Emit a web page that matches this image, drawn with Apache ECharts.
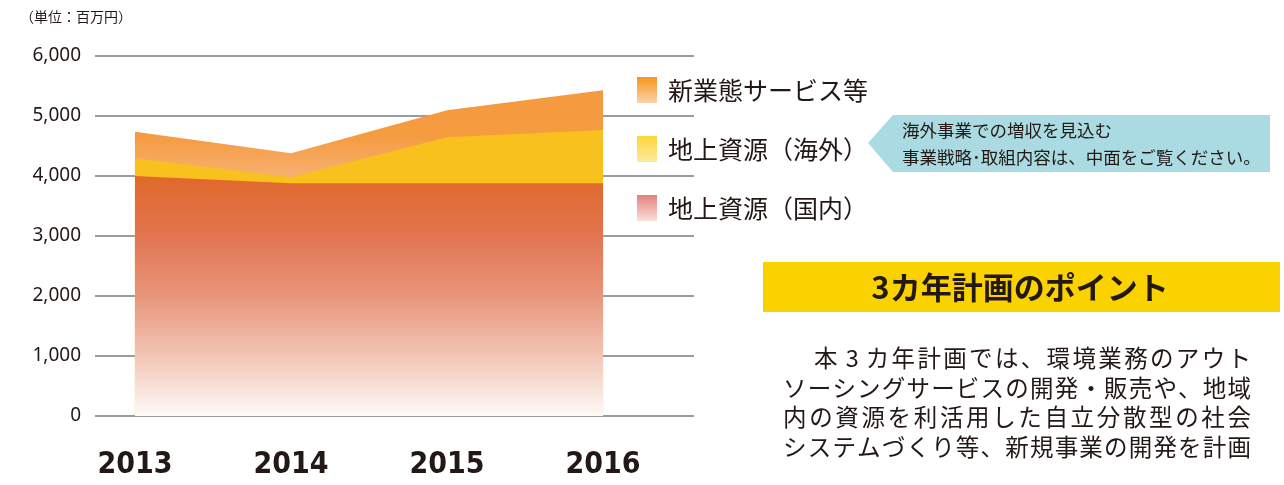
<!DOCTYPE html>
<html>
<head>
<meta charset="utf-8">
<script src="https://cdn.jsdelivr.net/npm/echarts@6/dist/echarts.min.js"></script>
<style>
  html, body { margin: 0; padding: 0; background: #fff; }
  #chart { width: 1284px; height: 485px; }
</style>
</head>
<body>
<div id="chart"></div>
<script>
// data
const years = [2013, 2014, 2015, 2016]
const domestic = [4000, 3880, 3880, 3880]      // 地上資源（国内）
const overseas = [295, 100, 765, 887]           // 地上資源（海外）
const newBiz = [443, 400, 450, 661]             // 新業態サービス等
const noteLines = [
  '海外事業での増収を見込む',
  '事業戦略･取組内容は、中面をご覧ください。'
]
const bodyLines = [
  '本３カ年計画では、環境業務のアウト',
  'ソーシングサービスの開発・販売や、地域',
  '内の資源を利活用した自立分散型の社会',
  'システムづくり等、新規事業の開発を計画'
]

// value x axis stacks on the wrong dimension, so sum the layers here
const sumUp = (...layers) => years.map((y, i) => layers.reduce((s, l) => s + l[i], 0))
const pair = arr => arr.map((v, i) => [years[i], v])
const grad = (stops, y0, y1) => new echarts.graphic.LinearGradient(0, y0 || 0, 0, y1 === undefined ? 1 : y1,
  stops.map((c, i) => ({ offset: i / (stops.length - 1), color: c })), y0 !== undefined)

// global gradients (pixel rows)
const domesticFill = grad(['#e0692a', '#e27550', '#e8957c', '#f2c6b6', '#fefaf8'], 176, 416)
const overseasFill = '#f9c11d'
const newBizFill = grad(['#f59a3e', '#f59b40', '#f7b274'], 90, 180)

const chart = echarts.init(document.getElementById('chart'))

const area = (name, data, color, z) => ({
  name: name,
  type: 'line',
  data: pair(data),
  z: z,
  showSymbol: false,
  lineStyle: { width: 0 },
  areaStyle: { color: color, opacity: 1 },
  itemStyle: { color: color },
  silent: true
})

// one glyph per slot so each line is justified like the print
const bodyText = []
bodyLines.forEach((t, li) => {
  const chars = Array.from(t)
  const start = li === 0 ? 814 : 783
  const size = 23.5
  const pitch = (1251 - start - size) / (chars.length - 1)
  chars.forEach((c, ci) => {
    bodyText.push({
      type: 'text', x: start + ci * pitch + (c === '３' ? 6 : 0), y: 358 + li * 29.7,
      style: { text: c === '３' ? '3' : c, font: size + 'px "Noto Sans CJK JP"', fill: '#231815', verticalAlign: 'middle' }
    })
  })
})

chart.setOption({
  animation: false,
  grid: { left: 95, right: 590, top: 56, bottom: 69 },
  xAxis: {
    type: 'value',
    min: 2012.744,
    max: 2016.583,
    axisLine: { show: false },
    axisTick: { show: false },
    splitLine: { show: false },
    axisLabel: {
      customValues: years,
      formatter: v => String(v),
      margin: 34,
      fontFamily: '"DejaVu Sans Condensed", Roboto, sans-serif',
      fontWeight: 'bold',
      fontSize: 30,
      color: '#231815'
    }
  },
  yAxis: {
    type: 'value',
    min: 0,
    max: 6000,
    interval: 1000,
    axisLine: { show: false },
    axisTick: { show: false },
    axisLabel: {
      margin: 14,
      fontFamily: 'Noto Sans',
      fontSize: 19,
      color: '#231815',
      formatter: v => v.toLocaleString('en-US')
    },
    splitLine: { lineStyle: { color: '#9b9b9b', width: 2 } }
  },
  legend: {
    orient: 'vertical',
    left: 632,
    top: 72,
    itemWidth: 20,
    itemHeight: 26,
    itemGap: 33,
    selectedMode: false,
    textStyle: {
      fontFamily: 'Noto Sans CJK JP',
      fontSize: 25,
      color: '#231815',
      padding: [0, 0, 0, 6]
    },
    data: [
      { name: '新業態サービス等', icon: 'rect', itemStyle: { color: grad(['#f5961e', '#fbd3a8']) } },
      { name: '地上資源（海外）', icon: 'rect', itemStyle: { color: grad(['#fdd93a', '#fde8a0']) } },
      { name: '地上資源（国内）', icon: 'rect', itemStyle: { color: grad(['#e3817a', '#f9e0dc']) } }
    ]
  },
  graphic: [
    {
      type: 'text', left: 20, top: 10,
      style: { text: '（単位：百万円）', font: '14px "Noto Sans CJK JP"', fill: '#231815' }
    },
    {
      type: 'polygon',
      shape: { points: [[868, 143], [893, 115], [1270, 115], [1270, 172], [893, 172]] },
      style: { fill: '#aadbe2' }
    },
    {
      type: 'text', left: 902, top: 117,
      style: {
        text: noteLines.join('\n'), font: '17.5px "Noto Sans CJK JP"',
        lineHeight: 27, fill: '#231815'
      }
    },
    {
      type: 'rect',
      shape: { x: 763, y: 262, width: 517, height: 50 },
      style: { fill: '#fad200' }
    },
    {
      type: 'text', x: 1020, y: 287,
      style: {
        text: '3カ年計画のポイント', font: 'bold 31px "Noto Sans CJK JP"',
        fill: '#231815', align: 'center', verticalAlign: 'middle'
      }
    }
  ].concat(bodyText),
  series: [
    area('新業態サービス等', sumUp(domestic, overseas, newBiz), newBizFill, 1),
    area('地上資源（海外）', sumUp(domestic, overseas), overseasFill, 2),
    area('地上資源（国内）', domestic, domesticFill, 3)
  ]
})
</script>
</body>
</html>
